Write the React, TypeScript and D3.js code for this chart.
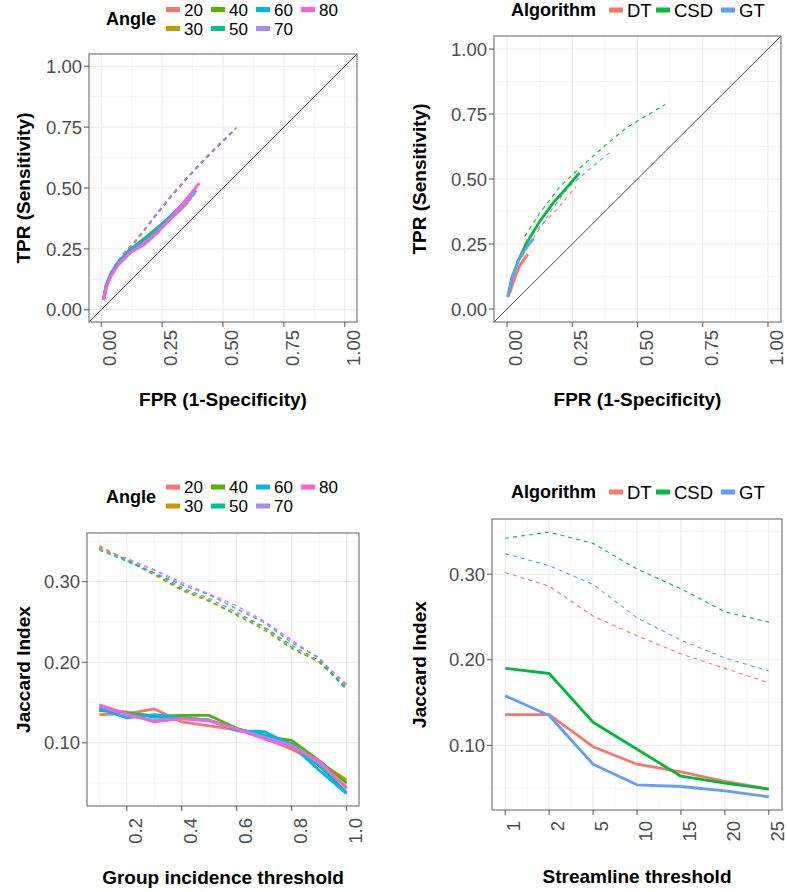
import * as d3 from "d3";

const FONT = "'Liberation Sans', Arial, Helvetica, sans-serif";

// colours (ggplot default hue palette)
const angleColors = ["#F8766D", "#C49A00", "#53B400", "#00C094", "#00B6EB", "#A58AFF", "#FB61D7"];
const algoColors = ["#F8766D", "#00BA38", "#619CFF"];

const angles = ["20", "30", "40", "50", "60", "70", "80"];
const algorithms = ["DT", "CSD", "GT"];

// ---- panel 1: ROC per angle, [fpr, tpr]
const rocSolid20 = [[0.01, 0.04], [0.02, 0.09], [0.04, 0.14], [0.07, 0.19], [0.11, 0.23], [0.16, 0.27], [0.21, 0.31], [0.26, 0.35], [0.31, 0.395], [0.356, 0.44]];
const rocSolid30 = [[0.01, 0.045], [0.02, 0.095], [0.04, 0.145], [0.07, 0.19], [0.11, 0.235], [0.16, 0.275], [0.21, 0.315], [0.26, 0.355], [0.32, 0.41], [0.37, 0.46]];
const rocSolid40 = [[0.01, 0.045], [0.02, 0.1], [0.04, 0.15], [0.07, 0.195], [0.11, 0.24], [0.16, 0.28], [0.21, 0.32], [0.27, 0.37], [0.33, 0.425], [0.38, 0.475]];
const rocSolid50 = [[0.01, 0.04], [0.02, 0.095], [0.04, 0.145], [0.07, 0.19], [0.11, 0.235], [0.16, 0.275], [0.22, 0.32], [0.28, 0.375], [0.34, 0.435], [0.385, 0.48]];
const rocSolid60 = [[0.01, 0.045], [0.02, 0.1], [0.04, 0.15], [0.07, 0.195], [0.12, 0.245], [0.17, 0.28], [0.22, 0.32], [0.28, 0.38], [0.34, 0.44], [0.39, 0.49]];
const rocSolid70 = [[0.01, 0.04], [0.02, 0.09], [0.04, 0.14], [0.07, 0.185], [0.12, 0.235], [0.17, 0.27], [0.22, 0.31], [0.28, 0.37], [0.34, 0.43], [0.385, 0.485]];
const rocSolid80 = [[0.01, 0.04], [0.02, 0.09], [0.04, 0.14], [0.07, 0.185], [0.12, 0.235], [0.18, 0.27], [0.23, 0.315], [0.29, 0.38], [0.35, 0.455], [0.403, 0.52]];
const rocDash20 = [[0.01, 0.05], [0.03, 0.12], [0.06, 0.185], [0.1, 0.235], [0.13, 0.265], [0.17, 0.315], [0.22, 0.38], [0.28, 0.455], [0.35, 0.535], [0.42, 0.61], [0.49, 0.68], [0.545, 0.735]];
const rocDash30 = [[0.01, 0.05], [0.03, 0.12], [0.06, 0.19], [0.1, 0.24], [0.13, 0.27], [0.17, 0.32], [0.22, 0.385], [0.28, 0.46], [0.35, 0.54], [0.42, 0.615], [0.49, 0.685], [0.55, 0.74]];
const rocDash40 = [[0.01, 0.05], [0.03, 0.12], [0.06, 0.19], [0.1, 0.24], [0.13, 0.268], [0.17, 0.318], [0.22, 0.382], [0.28, 0.458], [0.35, 0.538], [0.42, 0.612], [0.49, 0.682], [0.548, 0.738]];
const rocDash50 = [[0.01, 0.05], [0.03, 0.12], [0.06, 0.19], [0.1, 0.238], [0.13, 0.266], [0.17, 0.316], [0.22, 0.381], [0.28, 0.456], [0.35, 0.536], [0.42, 0.611], [0.49, 0.683], [0.552, 0.742]];
const rocDash60 = [[0.01, 0.05], [0.03, 0.12], [0.06, 0.19], [0.1, 0.242], [0.13, 0.272], [0.17, 0.322], [0.22, 0.386], [0.28, 0.462], [0.35, 0.542], [0.42, 0.617], [0.49, 0.688], [0.556, 0.748]];
const rocDash70 = [[0.01, 0.05], [0.03, 0.12], [0.06, 0.19], [0.1, 0.24], [0.13, 0.27], [0.17, 0.32], [0.22, 0.384], [0.28, 0.46], [0.35, 0.54], [0.42, 0.614], [0.49, 0.685], [0.553, 0.745]];
const rocDash80 = [[0.01, 0.05], [0.03, 0.12], [0.06, 0.19], [0.1, 0.24], [0.13, 0.268], [0.17, 0.318], [0.22, 0.383], [0.28, 0.459], [0.35, 0.539], [0.42, 0.613], [0.49, 0.684], [0.55, 0.743]];

// ---- panel 2: ROC per algorithm
const rocSolidDT = [[0.01, 0.06], [0.03, 0.12], [0.05, 0.17], [0.08, 0.21]];
const rocSolidCSD = [[0.004, 0.05], [0.017, 0.115], [0.045, 0.19], [0.075, 0.255], [0.126, 0.338], [0.177, 0.408], [0.222, 0.459], [0.277, 0.523]];
const rocSolidGT = [[0.003, 0.045], [0.02, 0.12], [0.042, 0.186], [0.07, 0.23], [0.1, 0.27]];
const rocDashDT = [[0.06, 0.2], [0.087, 0.276], [0.14, 0.33], [0.19, 0.382], [0.264, 0.471]];
const rocDashCSD = [[0.068, 0.28], [0.126, 0.37], [0.203, 0.471], [0.274, 0.538], [0.382, 0.634], [0.459, 0.698], [0.607, 0.787]];
const rocDashGT = [[0.1, 0.27], [0.17, 0.38], [0.235, 0.468], [0.293, 0.519], [0.395, 0.603]];

// ---- panel 3: Jaccard vs group incidence threshold
const groupThreshold = [0.1, 0.2, 0.3, 0.4, 0.5, 0.6, 0.7, 0.8, 0.9, 1.0];
const jacSolid20 = [0.135, 0.136, 0.142, 0.126, 0.121, 0.116, 0.108, 0.095, 0.072, 0.045];
const jacSolid30 = [0.142, 0.138, 0.133, 0.131, 0.128, 0.117, 0.106, 0.092, 0.076, 0.054];
const jacSolid40 = [0.14, 0.137, 0.133, 0.134, 0.134, 0.118, 0.108, 0.103, 0.078, 0.05];
const jacSolid50 = [0.141, 0.137, 0.132, 0.131, 0.128, 0.117, 0.11, 0.099, 0.072, 0.038];
const jacSolid60 = [0.143, 0.131, 0.135, 0.131, 0.128, 0.115, 0.114, 0.097, 0.066, 0.037];
const jacSolid70 = [0.146, 0.134, 0.128, 0.13, 0.128, 0.117, 0.107, 0.097, 0.075, 0.044];
const jacSolid80 = [0.147, 0.136, 0.126, 0.13, 0.127, 0.117, 0.105, 0.094, 0.078, 0.043];
const jacDash20 = [0.345, 0.326, 0.309, 0.29, 0.276, 0.26, 0.243, 0.219, 0.2, 0.168];
const jacDash30 = [0.344, 0.327, 0.308, 0.289, 0.275, 0.259, 0.242, 0.218, 0.201, 0.17];
const jacDash40 = [0.342, 0.326, 0.31, 0.291, 0.277, 0.258, 0.24, 0.217, 0.2, 0.166];
const jacDash50 = [0.341, 0.327, 0.311, 0.293, 0.279, 0.262, 0.244, 0.221, 0.202, 0.168];
const jacDash60 = [0.339, 0.325, 0.311, 0.296, 0.284, 0.266, 0.249, 0.224, 0.206, 0.165];
const jacDash70 = [0.341, 0.328, 0.314, 0.297, 0.283, 0.267, 0.25, 0.226, 0.205, 0.171];
const jacDash80 = [0.34, 0.329, 0.315, 0.299, 0.285, 0.27, 0.251, 0.228, 0.204, 0.173];

// ---- panel 4: Jaccard vs streamline threshold (evenly spaced categories)
const streamlineLabels = ["1", "2", "5", "10", "15", "20", "25"];
const jacSolidDT = [0.136, 0.136, 0.0985, 0.078, 0.069, 0.058, 0.049];
const jacSolidCSD = [0.19, 0.184, 0.127, 0.0955, 0.064, 0.056, 0.049];
const jacSolidGT = [0.158, 0.135, 0.078, 0.054, 0.052, 0.047, 0.04];
const jacDashDT = [0.302, 0.286, 0.251, 0.228, 0.207, 0.19, 0.173];
const jacDashCSD = [0.342, 0.349, 0.336, 0.306, 0.283, 0.256, 0.244];
const jacDashGT = [0.324, 0.31, 0.288, 0.249, 0.223, 0.202, 0.187];

type Pt = [number, number];
type Series = { pts: Pt[]; color: string; dashed: boolean };

const rocTicks = [0, 0.25, 0.5, 0.75, 1];
const rocMinor = [0.125, 0.375, 0.625, 0.875];
const fmt2 = d3.format(".2f");

function Panel(props: {
  box: { x: number; y: number; w: number; h: number };
  xDomain: [number, number];
  yDomain: [number, number];
  xTicks: number[];
  xTickLabels: string[];
  xMinor: number[];
  yTicks: number[];
  yTickLabels: string[];
  yMinor: number[];
  series: Series[];
  diag?: boolean;
  xTitle: string;
  yTitle: string;
  xTitleY: number;
  yTitleX: number;
  xLabelTop: number;
}) {
  const { box } = props;
  const x = d3.scaleLinear().domain(props.xDomain).range([box.x, box.x + box.w]);
  const y = d3.scaleLinear().domain(props.yDomain).range([box.y + box.h, box.y]);
  const line = d3
    .line<Pt>()
    .x((d) => x(d[0]))
    .y((d) => y(d[1]));
  const x0 = box.x, x1 = box.x + box.w, y0 = box.y, y1 = box.y + box.h;
  const lo = Math.max(props.xDomain[0], props.yDomain[0]);
  const hi = Math.min(props.xDomain[1], props.yDomain[1]);
  const dashed = props.series.filter((s) => s.dashed);
  const solid = props.series.filter((s) => !s.dashed);
  return (
    <g>
      <rect x={x0} y={y0} width={box.w} height={box.h} fill="white" />
      {props.xMinor.map((v) => (
        <line key={"xm" + v} x1={x(v)} x2={x(v)} y1={y0} y2={y1} stroke="#F2F2F2" strokeWidth={0.8} />
      ))}
      {props.yMinor.map((v) => (
        <line key={"ym" + v} x1={x0} x2={x1} y1={y(v)} y2={y(v)} stroke="#F2F2F2" strokeWidth={0.8} />
      ))}
      {props.xTicks.map((v) => (
        <line key={"xg" + v} x1={x(v)} x2={x(v)} y1={y0} y2={y1} stroke="#EBEBEB" strokeWidth={1.1} />
      ))}
      {props.yTicks.map((v) => (
        <line key={"yg" + v} x1={x0} x2={x1} y1={y(v)} y2={y(v)} stroke="#EBEBEB" strokeWidth={1.1} />
      ))}
      {props.diag && (
        <line x1={x(lo)} y1={y(lo)} x2={x(hi)} y2={y(hi)} stroke="#333" strokeWidth={0.9} />
      )}
      {dashed.map((s, i) => (
        <path key={"d" + i} d={line(s.pts) || ""} fill="none" stroke={s.color} strokeWidth={1.1} strokeDasharray="4,4" />
      ))}
      {solid.map((s, i) => (
        <path key={"s" + i} d={line(s.pts) || ""} fill="none" stroke={s.color} strokeWidth={2.8} strokeLinejoin="round" />
      ))}
      <rect x={x0} y={y0} width={box.w} height={box.h} fill="none" stroke="#6E6E6E" strokeWidth={1.1} />
      {props.yTicks.map((v, i) => (
        <g key={"yt" + v}>
          <line x1={x0 - 5} x2={x0} y1={y(v)} y2={y(v)} stroke="#555" strokeWidth={1} />
          <text x={x0 - 7} y={y(v)} dy="0.36em" textAnchor="end" fontSize={18.5} fill="#4D4D4D" fontFamily={FONT}>
            {props.yTickLabels[i]}
          </text>
        </g>
      ))}
      {props.xTicks.map((v, i) => (
        <g key={"xt" + v}>
          <line x1={x(v)} x2={x(v)} y1={y1} y2={y1 + 5} stroke="#555" strokeWidth={1} />
          <text
            transform={`translate(${x(v) + 15},${props.xLabelTop}) rotate(-90)`}
            textAnchor="end"
            fontSize={18.5}
            fill="#4D4D4D"
            fontFamily={FONT}
          >
            {props.xTickLabels[i]}
          </text>
        </g>
      ))}
      <text x={(x0 + x1) / 2} y={props.xTitleY} textAnchor="middle" fontSize={19} fontWeight="bold" fontFamily={FONT} fill="#000">
        {props.xTitle}
      </text>
      <text
        transform={`translate(${props.yTitleX},${(y0 + y1) / 2}) rotate(-90)`}
        textAnchor="middle"
        fontSize={19}
        fontWeight="bold"
        fontFamily={FONT}
        fill="#000"
      >
        {props.yTitle}
      </text>
    </g>
  );
}

function AngleLegend({ top }: { top: number }) {
  // two rows, filled column-wise
  const colX = [166, 211, 256, 301];
  const rowGap = 19;
  return (
    <g fontFamily={FONT}>
      <text x={106} y={top + rowGap / 2} dy="0.36em" fontSize={18} fontWeight="bold">Angle</text>
      {angles.map((a, i) => {
        const col = Math.floor(i / 2);
        const row = i % 2;
        const cy = top + row * rowGap;
        return (
          <g key={a}>
            <rect x={colX[col]} y={cy - 2.5} width={14} height={5} fill={angleColors[i]} />
            <text x={colX[col] + 18} y={cy} dy="0.36em" fontSize={17} fill="#000">{a}</text>
          </g>
        );
      })}
    </g>
  );
}

function AlgoLegend({ cy }: { cy: number }) {
  const keyX = [609, 656, 721];
  return (
    <g fontFamily={FONT}>
      <text x={511} y={cy} dy="0.36em" fontSize={18} fontWeight="bold">Algorithm</text>
      {algorithms.map((a, i) => (
        <g key={a}>
          <rect x={keyX[i]} y={cy - 2.5} width={14} height={5} fill={algoColors[i]} />
          <text x={keyX[i] + 18} y={cy} dy="0.36em" fontSize={18.5} fill="#000">{a}</text>
        </g>
      ))}
    </g>
  );
}

export default function App() {
  const rocSolid = [rocSolid20, rocSolid30, rocSolid40, rocSolid50, rocSolid60, rocSolid70, rocSolid80];
  const rocDash = [rocDash20, rocDash30, rocDash40, rocDash50, rocDash60, rocDash70, rocDash80];
  const angleRoc: Series[] = [
    ...rocDash.map((p, i) => ({ pts: p as Pt[], color: angleColors[i], dashed: true })),
    ...rocSolid.map((p, i) => ({ pts: p as Pt[], color: angleColors[i], dashed: false })),
  ];
  const algoRoc: Series[] = [
    ...[rocDashDT, rocDashCSD, rocDashGT].map((p, i) => ({ pts: p as Pt[], color: algoColors[i], dashed: true })),
    ...[rocSolidDT, rocSolidCSD, rocSolidGT].map((p, i) => ({ pts: p as Pt[], color: algoColors[i], dashed: false })),
  ];
  const jacSolid = [jacSolid20, jacSolid30, jacSolid40, jacSolid50, jacSolid60, jacSolid70, jacSolid80];
  const jacDash = [jacDash20, jacDash30, jacDash40, jacDash50, jacDash60, jacDash70, jacDash80];
  const toPts = (xs: number[], ys: number[]) => ys.map((v, i) => [xs[i], v] as Pt);
  const angleJac: Series[] = [
    ...jacDash.map((v, i) => ({ pts: toPts(groupThreshold, v), color: angleColors[i], dashed: true })),
    ...jacSolid.map((v, i) => ({ pts: toPts(groupThreshold, v), color: angleColors[i], dashed: false })),
  ];
  const idx = streamlineLabels.map((_, i) => i + 1);
  const algoJac: Series[] = [
    ...[jacDashDT, jacDashCSD, jacDashGT].map((v, i) => ({ pts: toPts(idx, v), color: algoColors[i], dashed: true })),
    ...[jacSolidDT, jacSolidCSD, jacSolidGT].map((v, i) => ({ pts: toPts(idx, v), color: algoColors[i], dashed: false })),
  ];

  // y domains with 5% expansion of the data range
  const allJac3 = [...jacSolid.flat(), ...jacDash.flat()];
  const ext3 = d3.extent(allJac3) as [number, number];
  const pad3 = (ext3[1] - ext3[0]) * 0.05;
  const allJac4 = [jacSolidDT, jacSolidCSD, jacSolidGT, jacDashDT, jacDashCSD, jacDashGT].flat();
  const ext4 = d3.extent(allJac4) as [number, number];
  const pad4 = (ext4[1] - ext4[0]) * 0.05;

  const jacTicks = [0.1, 0.2, 0.3];
  const jacMinor = [0.05, 0.15, 0.25, 0.35];

  return (
    <svg width={787} height={892} style={{ position: "absolute", left: 0, top: 0, background: "white" }}>
      <rect width={787} height={892} fill="white" />
      <AngleLegend top={9.5} />
      <AlgoLegend cy={10} />
      <AngleLegend top={487} />
      <AlgoLegend cy={492} />
      <Panel
        box={{ x: 89, y: 54, w: 268, h: 268 }}
        xDomain={[-0.05, 1.05]}
        yDomain={[-0.05, 1.05]}
        xTicks={rocTicks}
        xTickLabels={rocTicks.map(fmt2)}
        xMinor={rocMinor}
        yTicks={rocTicks}
        yTickLabels={rocTicks.map(fmt2)}
        yMinor={rocMinor}
        series={angleRoc}
        diag
        xTitle="FPR (1-Specificity)"
        yTitle="TPR (Sensitivity)"
        xTitleY={406}
        yTitleX={30}
        xLabelTop={330}
      />
      <Panel
        box={{ x: 494, y: 36, w: 287, h: 286 }}
        xDomain={[-0.05, 1.05]}
        yDomain={[-0.05, 1.05]}
        xTicks={rocTicks}
        xTickLabels={rocTicks.map(fmt2)}
        xMinor={rocMinor}
        yTicks={rocTicks}
        yTickLabels={rocTicks.map(fmt2)}
        yMinor={rocMinor}
        series={algoRoc}
        diag
        xTitle="FPR (1-Specificity)"
        yTitle="TPR (Sensitivity)"
        xTitleY={406}
        yTitleX={426}
        xLabelTop={330}
      />
      <Panel
        box={{ x: 87, y: 533, w: 272, h: 273 }}
        xDomain={[0.1 - 0.045, 1.0 + 0.045]}
        yDomain={[ext3[0] - pad3, ext3[1] + pad3]}
        xTicks={[0.2, 0.4, 0.6, 0.8, 1.0]}
        xTickLabels={["0.2", "0.4", "0.6", "0.8", "1.0"]}
        xMinor={[0.1, 0.3, 0.5, 0.7, 0.9]}
        yTicks={jacTicks}
        yTickLabels={jacTicks.map(fmt2)}
        yMinor={jacMinor}
        series={angleJac}
        xTitle="Group incidence threshold"
        yTitle="Jaccard Index"
        xTitleY={884}
        yTitleX={30}
        xLabelTop={818}
      />
      <Panel
        box={{ x: 492, y: 519, w: 290, h: 291 }}
        xDomain={[1 - 0.3, 7 + 0.3]}
        yDomain={[ext4[0] - pad4, ext4[1] + pad4]}
        xTicks={idx}
        xTickLabels={streamlineLabels}
        xMinor={[1.5, 2.5, 3.5, 4.5, 5.5, 6.5]}
        yTicks={jacTicks}
        yTickLabels={jacTicks.map(fmt2)}
        yMinor={jacMinor}
        series={algoJac}
        xTitle="Streamline threshold"
        yTitle="Jaccard Index"
        xTitleY={883}
        yTitleX={426}
        xLabelTop={821}
      />
    </svg>
  );
}
